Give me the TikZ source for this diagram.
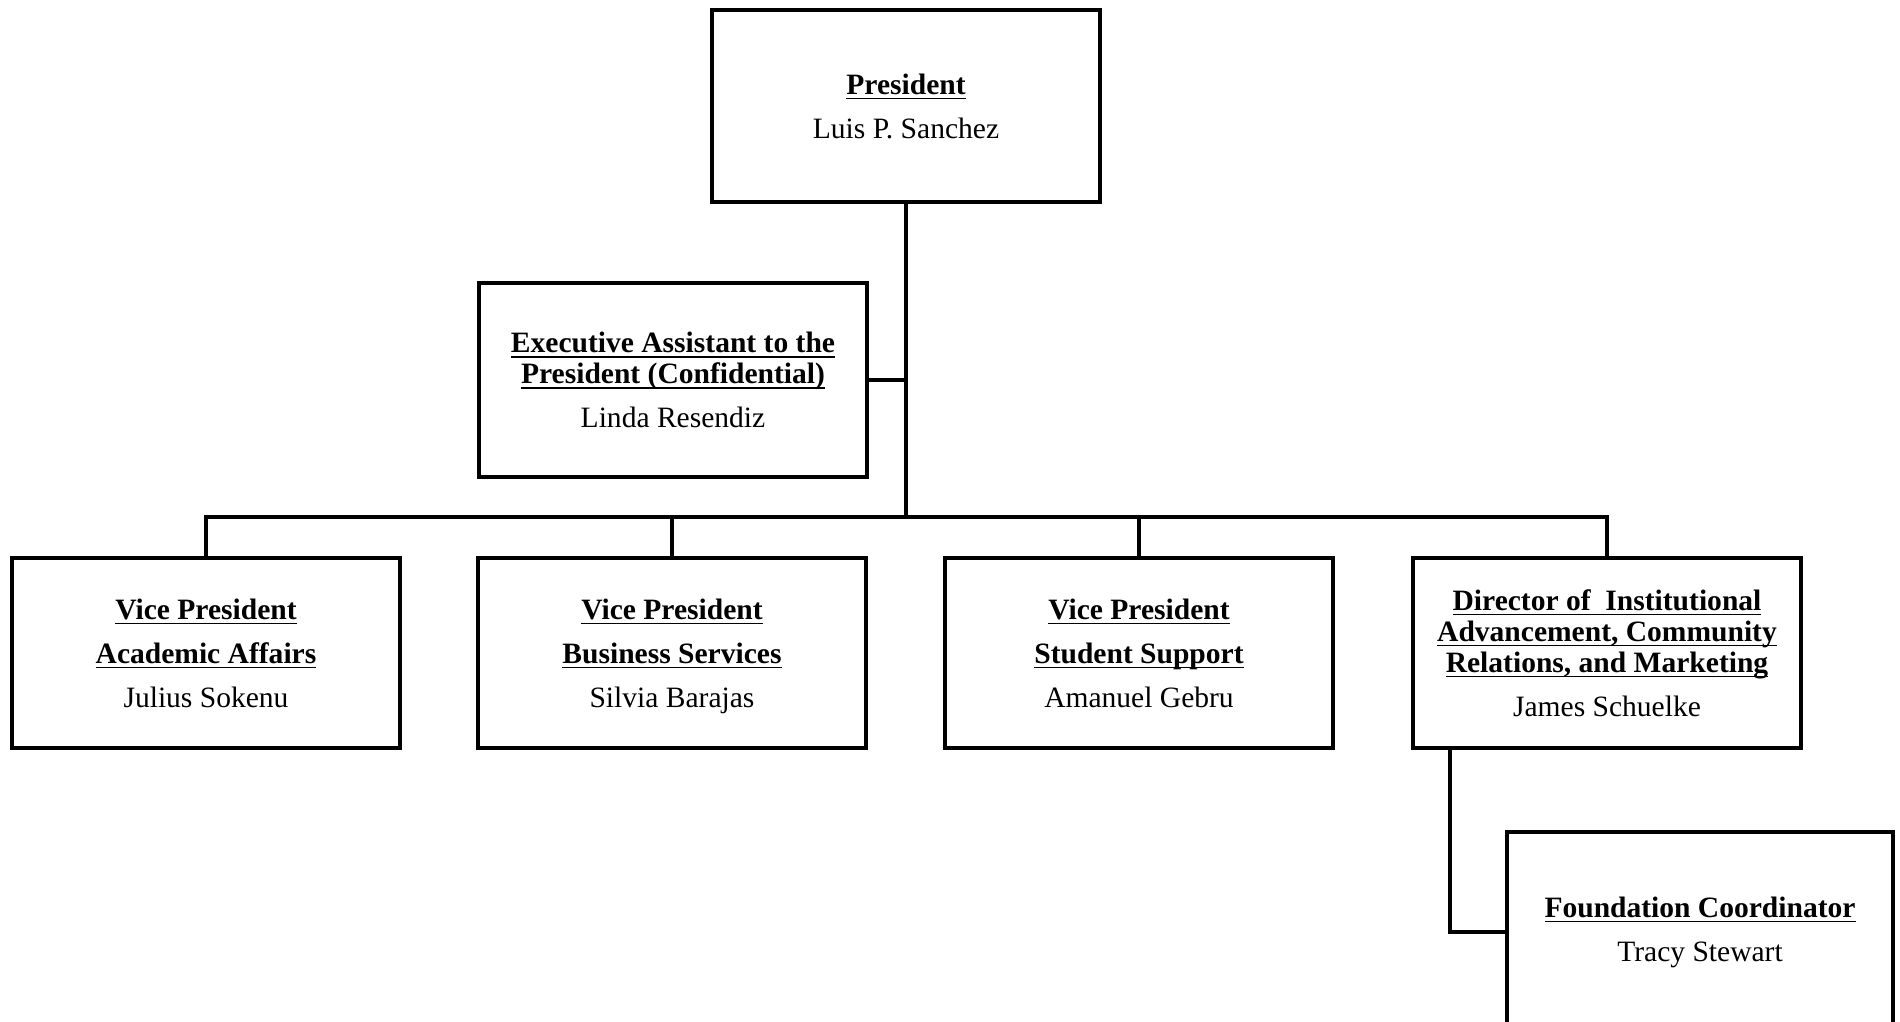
\documentclass[tikz,border=0pt]{standalone}
\usepackage{amsmath}
\usepackage{fontspec}
\setmainfont{Liberation Serif}
\usepackage{tikz}
\usetikzlibrary{calc}
\tikzset{
    orgbox/.style={draw, line width=0.04cm, minimum width=3.88cm, minimum height=1.9cm, align=center, inner sep=0pt, font=\fontsize{8.4}{8.8}\selectfont},
    orgline/.style={line width=0.04cm}
}
\newcommand{\ttl}[1]{\underline{\smash[b]{\textbf{#1}}}}

\begin{document}
\begin{tikzpicture}[x=0.01cm, y=-0.01cm]
\clip (0,0) rectangle (1900,1021);
\node (pres) at (906,106)[orgbox, minimum height=1.91cm] {\ttl{President}\\[3.7pt]Luis P. Sanchez};
\node (exec) at (673,380)[orgbox, minimum height=1.94cm] {\ttl{Executive Assistant to the}\\\ttl{President (Confidential)}\\[3.7pt]Linda Resendiz};
\foreach \x/\n/\t/\w in {206/vpaa/{Academic Affairs}/{Julius Sokenu}, 672/vpbs/{Business Services}/{Silvia Barajas}, 1139/vpss/{Student Support}/{Amanuel Gebru}}{
    \node (\n) at (\x,653)[orgbox] {\ttl{Vice President}\\[3.7pt]\ttl{\t}\\[3.7pt]\smash[b]{\w}};
}
\node (dir) at (1607,653)[orgbox] {\ttl{Director of\ \ Institutional}\\\ttl{Advancement, Community}\\\ttl{Relations, and Marketing}\\[3.7pt]James Schuelke};
\node (found) at (1700,932)[orgbox, minimum width=3.85cm, minimum height=2cm] {\ttl{Foundation Coordinator}\\[3.7pt]Tracy Stewart};
\coordinate (bus) at (906,517);
\draw[orgline] (pres.south)--(bus);
\draw[orgline] (exec.east)--(exec.east -| pres.south);
\foreach \n in {vpaa,vpbs,vpss,dir}{
    \draw[orgline] (bus) -| (\n.north);
}
\draw[orgline] ($(dir.south west)!0.1!(dir.south east)$) |- (found.west);
\end{tikzpicture}
\end{document}
